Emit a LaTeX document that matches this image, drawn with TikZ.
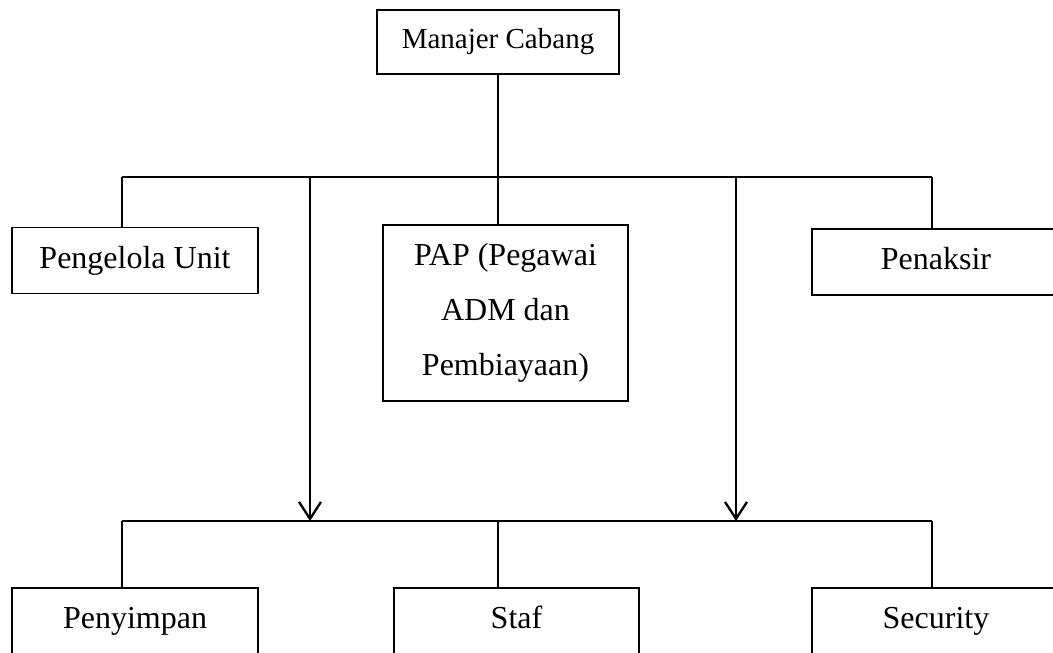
\documentclass[tikz,border=0pt]{standalone}
\usepackage{fontspec}
\setmainfont{Liberation Serif}
\usetikzlibrary{arrows.meta,positioning}

\tikzset{
	jabatan/.style={draw, line width=1.1pt, inner sep=0pt, minimum height=66pt, font=\fontsize{32}{55}\selectfont, align=center},
	satubaris/.style={text height=22pt, text depth=7pt},
	garis/.style={line width=1.3pt},
	panah/.style={line width=2.3pt, -{Straight Barb[length=17pt, width=22pt, line width=2.3pt]}}
}

\begin{document}
\begin{tikzpicture}[x=1pt, y=-1pt]
					\useasboundingbox (0,0) rectangle (1053,653);
					\clip (0,0) rectangle (1053,653);

					% kotak jabatan
					\node[jabatan, minimum width=242pt, minimum height=64pt, font=\fontsize{29}{35}\selectfont, text height=18pt, text depth=6pt] (mc) at (498,42) {Manajer Cabang};
					\node[jabatan, satubaris, minimum width=246pt] (pu)  at (135,260.5) {Pengelola Unit};
					\node[jabatan, minimum width=245pt, minimum height=176pt] (pap) at (505.5,313) {PAP (Pegawai\\ADM dan\\Pembiayaan)};
					\node[jabatan, satubaris, minimum width=248pt] (pen) at (936,262) {Penaksir};
					\node[jabatan, satubaris, minimum width=246pt] (pny) at (135,621) {Penyimpan};
					\node[jabatan, satubaris, minimum width=245pt] (stf) at (516.5,621) {Staf};
					\node[jabatan, satubaris, minimum width=248pt] (sec) at (936,621) {Security};

					% titik cabang
					\coordinate (atasL) at (122,177);
					\coordinate (atasM) at (498,177);
					\coordinate (atasR) at (932,177);
					\coordinate (bawahL) at (122,521);
					\coordinate (bawahM) at (498,521);
					\coordinate (bawahR) at (932,521);
					\coordinate (p1) at (310,177);
					\coordinate (p2) at (736,177);

					\draw[garis] (mc.south) -- (atasM)
						(atasL) -- (atasR)
						(atasL) -- (atasL |- pu.north)
						(atasM) -- (atasM |- pap.north)
						(atasR) -- (atasR |- pen.north)
						(bawahL) -- (bawahR)
						(bawahL) -- (bawahL |- pny.north)
						(bawahM) -- (bawahM |- stf.north)
						(bawahR) -- (bawahR |- sec.north);

					\draw[panah] (p1) -- (p1 |- bawahL);
					\draw[panah] (p2) -- (p2 |- bawahL);
				\end{tikzpicture}
\end{document}
